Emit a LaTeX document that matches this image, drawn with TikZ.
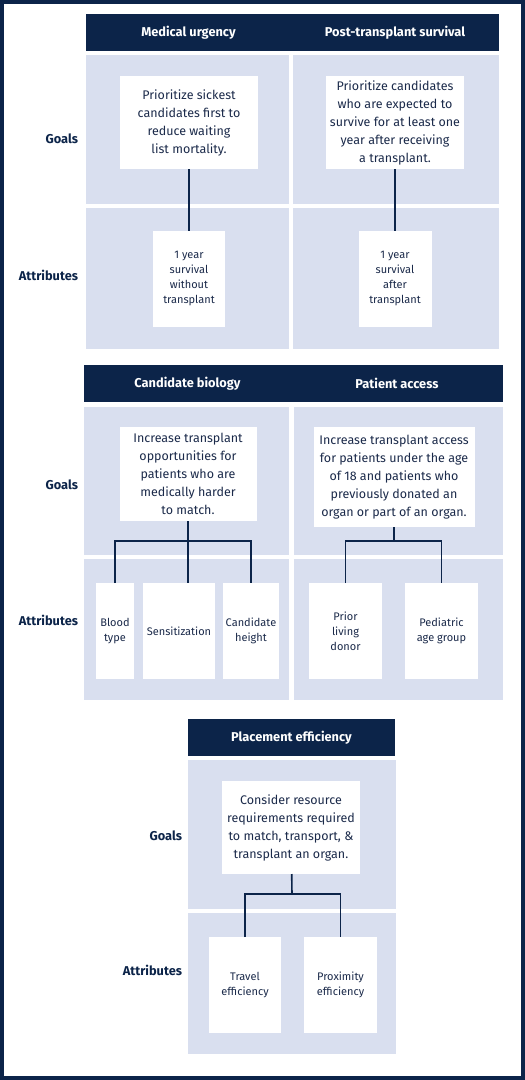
\documentclass[tikz,border=0pt]{standalone}
\usepackage{fontspec}
\setmainfont{Fira Sans}
\definecolor{navy}{HTML}{0C2449}
\definecolor{cellblue}{HTML}{D9DFEF}
\definecolor{inkblue}{HTML}{1B2A4A}

\begin{document}
\begin{tikzpicture}[x=1bp,y=-1bp,
  every node/.style={inner sep=0pt,outer sep=0pt},
  header/.style={fill=navy,text=white,font=\fontsize{12.8bp}{15bp}\selectfont\bfseries,minimum height=37bp},
  cell/.style={fill=cellblue},
  goalbox/.style={fill=white,text=inkblue,align=center,font=\fontsize{12.5bp}{18bp}\selectfont,minimum height=93bp},
  attrbox/.style={fill=white,text=inkblue,align=center,font=\fontsize{11bp}{15bp}\selectfont,minimum height=96bp},
  rowlabel/.style={anchor=east,text=navy,font=\fontsize{12.8bp}{15bp}\selectfont\bfseries},
  link/.style={draw=navy,line width=1.6bp}]
  \useasboundingbox (0,0) rectangle (525,1080);
  \draw[navy,line width=4bp] (2,2) rectangle (523,1078);

  % medical urgency / post-transplant survival
  \node[header,minimum width=205bp] (h1) at (188.5,32.5) {Medical urgency};
  \node[header,minimum width=208bp] (h2) at (395,32.5) {Post-transplant survival};
  \node[cell,minimum width=203bp,minimum height=149bp] (c1g) at (187.5,129.5) {};
  \node[cell,minimum width=206bp,minimum height=149bp] (c2g) at (396,129.5) {};
  \node[cell,minimum width=203bp,minimum height=141bp] (c1a) at (187.5,278.5) {};
  \node[cell,minimum width=206bp,minimum height=141bp] (c2a) at (396,278.5) {};
  \node[rowlabel] (l1g) at (78,139) {Goals};
  \node[rowlabel] (l1a) at (78,275) {Attributes};
    \node[goalbox,minimum width=138bp] (g1) at (189,122.5) {Prioritize sickest\\candidates first to\\reduce waiting\\list mortality.};
    \node[goalbox,minimum width=138bp] (g2) at (395,122.5) {Prioritize candidates\\who are expected to\\survive for at least one\\year after receiving\\a transplant.};
    \node[attrbox,minimum width=72bp] (a1) at (189,278.5) {1 year\\survival\\without\\transplant};
    \node[attrbox,minimum width=73bp] (a2) at (395,278.5) {1 year\\survival\\after\\transplant};
  \draw[link] (g1) -- (a1);
  \draw[link] (g2) -- (a2);

  % candidate biology / patient access
  \node[header,minimum width=207bp] (h3) at (187.5,383.5) {Candidate biology};
  \node[header,minimum width=212bp] (h4) at (397,383.5) {Patient access};
  \node[cell,minimum width=205bp,minimum height=148bp] (c3g) at (186.5,481) {};
  \node[cell,minimum width=209bp,minimum height=148bp] (c4g) at (398.5,481) {};
  \node[cell,minimum width=205bp,minimum height=141bp] (c3a) at (186.5,629.5) {};
  \node[cell,minimum width=209bp,minimum height=141bp] (c4a) at (398.5,629.5) {};
  \node[rowlabel] (l2g) at (78,485) {Goals};
  \node[rowlabel] (l2a) at (78,620) {Attributes};
    \node[goalbox,minimum width=137bp,minimum height=94bp] (g3) at (188,474) {Increase transplant\\opportunities for\\patients who are\\medically harder\\to match.};
    \node[goalbox,minimum width=161bp,minimum height=100bp] (g4) at (394,477) {Increase transplant access\\for patients under the age\\of 18 and patients who\\previously donated an\\organ or part of an organ.};
    \node[attrbox,minimum width=38bp] (a3a) at (115,631) {Blood\\type};
    \node[attrbox,minimum width=72bp] (a3b) at (179,631) {Sensitization};
    \node[attrbox,minimum width=56bp] (a3c) at (251,631) {Candidate\\height};
    \node[attrbox,minimum width=73bp] (a4a) at (345.5,631) {Prior\\living\\donor};
    \node[attrbox,minimum width=73bp] (a4b) at (441.5,631) {Pediatric\\age group};
  \coordinate (j3) at (188,541);
  \coordinate (j4) at (394,541);
  \draw[link] (g3) -- (g3 |- a3b.north);
  \draw[link] (a3a.north) |- (j3) -| (a3c.north);
  \draw[link] (g4) -- (j4);
  \draw[link] (a4a.north) |- (j4) -| (a4b.north);

  % placement efficiency
  \node[header,minimum width=207bp] (h5) at (291.5,737.5) {Placement efficiency};
  \node[cell,minimum width=208bp,minimum height=149bp] (c5g) at (292,834.5) {};
  \node[cell,minimum width=208bp,minimum height=141bp] (c5a) at (292,983.5) {};
  \node[rowlabel] (l3g) at (182,836) {Goals};
  \node[rowlabel] (l3a) at (182,970) {Attributes};
    \node[goalbox,minimum width=138bp] (g5) at (291,827.5) {Consider resource\\requirements required\\to match, transport, \&\\transplant an organ.};
    \node[attrbox,minimum width=72bp] (a5a) at (245,985) {Travel\\efficiency};
    \node[attrbox,minimum width=73bp] (a5b) at (340.5,985) {Proximity\\efficiency};
  \coordinate (j5) at (292,894);
  \draw[link] (g5) -- (j5);
  \draw[link] (a5a.north) |- (j5) -| (a5b.north);
\end{tikzpicture}
\end{document}
